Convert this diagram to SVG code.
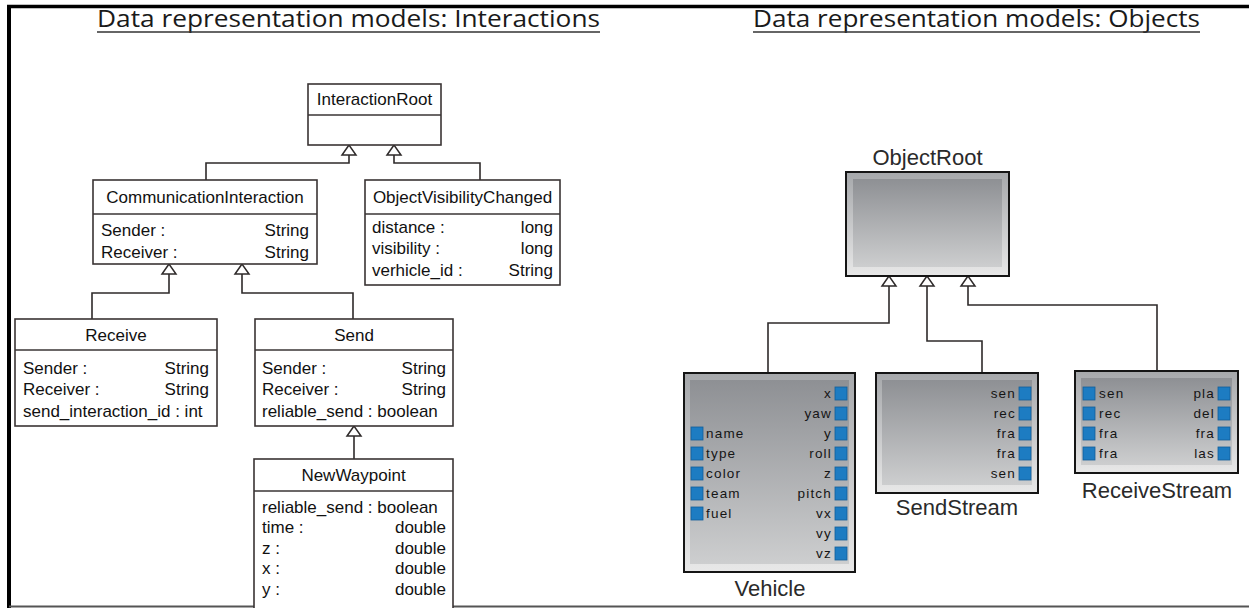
<svg xmlns="http://www.w3.org/2000/svg" width="1249" height="608" viewBox="0 0 1249 608">
<style>
.title{font-family:"Open Sans","Liberation Sans",sans-serif;font-size:23px;fill:#1a1a1a}
.uline{stroke:#333;stroke-width:1.5}
.box{fill:#fff;stroke:#3a3434;stroke-width:1.6}
.div{stroke:#3a3434;stroke-width:1.6}
.t{font-family:"Liberation Sans",Arial,sans-serif;font-size:17px;fill:#111}
.c{text-anchor:middle}
.r{text-anchor:end}
.conn{fill:none;stroke:#2e2a2a;stroke-width:1.6}
.tri{fill:#fff;stroke:#2e2a2a;stroke-width:1.5}
.obo{fill:url(#outerG);stroke:#151515;stroke-width:2}
.obi{fill:url(#innerG)}
.lbl{font-family:"Liberation Sans",Arial,sans-serif;font-size:22px;fill:#2a2a2a;text-anchor:middle}
.pl{font-family:"Liberation Sans",Arial,sans-serif;font-size:13.5px;fill:#151515;letter-spacing:1.2px}
.port{fill:#1d7cc2;stroke:#125e99;stroke-width:0.8}
</style>
<defs>
<linearGradient id="outerG" x1="0" y1="0" x2="0" y2="1"><stop offset="0" stop-color="#a6a8ab"/><stop offset="1" stop-color="#e8e8e8"/></linearGradient>
<linearGradient id="innerG" x1="0" y1="0" x2="0" y2="1"><stop offset="0" stop-color="#8e9094"/><stop offset="1" stop-color="#cdcecf"/></linearGradient>
</defs>
<rect x="0" y="0" width="1249" height="608" fill="#fff"/>
<g id="frame">
<line x1="7" y1="6.5" x2="1249" y2="6.5" stroke="#000" stroke-width="3.5"/>
<line x1="9" y1="5" x2="9" y2="608" stroke="#000" stroke-width="4"/>
<line x1="9" y1="606.5" x2="1249" y2="606.5" stroke="#555" stroke-width="2"/>
</g>
<g id="titles">
<text class="title" x="97" y="27" textLength="503" lengthAdjust="spacingAndGlyphs">Data representation models: Interactions</text>
<line class="uline" x1="97" y1="32" x2="600" y2="32"/>
<text class="title" x="753" y="27" textLength="447" lengthAdjust="spacingAndGlyphs">Data representation models: Objects</text>
<line class="uline" x1="753" y1="32" x2="1200" y2="32"/>
</g>
<g id="connectors">
<path class="conn" d="M349,155 V163 H206 V180"/>
<path class="conn" d="M394,155 V163 H480 V180"/>
<path class="conn" d="M169,274 V293 H92 V319"/>
<path class="conn" d="M242,274 V293 H353 V319"/>
<path class="conn" d="M354,436 V459"/>
<polygon class="tri" points="349,145 342,155 356,155"/>
<polygon class="tri" points="394,145 387,155 401,155"/>
<polygon class="tri" points="169,264 162,274 176,274"/>
<polygon class="tri" points="242,264 235,274 249,274"/>
<polygon class="tri" points="354,426 347,436 361,436"/>
<path class="conn" d="M889,286 V323 H768 V373"/>
<path class="conn" d="M927,286 V341 H982 V373"/>
<path class="conn" d="M968,286 V305 H1157 V371"/>
<polygon class="tri" points="889,276 882,286 896,286"/>
<polygon class="tri" points="927,276 920,286 934,286"/>
<polygon class="tri" points="968,276 961,286 975,286"/>
</g>
<g id="InteractionRoot">
<rect class="box" x="308" y="84" width="133" height="61"/>
<line class="div" x1="308" y1="115" x2="441" y2="115"/>
<text class="t c" x="374.5" y="105">InteractionRoot</text>
</g>
<g id="CommunicationInteraction">
<rect class="box" x="93" y="180" width="224" height="84"/>
<line class="div" x1="93" y1="214" x2="317" y2="214"/>
<text class="t c" x="205" y="203">CommunicationInteraction</text>
<text class="t" x="101" y="236">Sender :</text><text class="t r" x="309" y="236">String</text>
<text class="t" x="101" y="258">Receiver :</text><text class="t r" x="309" y="258">String</text>
</g>
<g id="ObjectVisibilityChanged">
<rect class="box" x="365" y="180" width="195" height="105"/>
<line class="div" x1="365" y1="214" x2="560" y2="214"/>
<text class="t c" x="462.5" y="203">ObjectVisibilityChanged</text>
<text class="t" x="372" y="233">distance :</text><text class="t r" x="553" y="233">long</text>
<text class="t" x="372" y="254">visibility :</text><text class="t r" x="553" y="254">long</text>
<text class="t" x="372" y="276">verhicle_id :</text><text class="t r" x="553" y="276">String</text>
</g>
<g id="Receive">
<rect class="box" x="15" y="319" width="202" height="107"/>
<line class="div" x1="15" y1="350" x2="217" y2="350"/>
<text class="t c" x="116" y="341">Receive</text>
<text class="t" x="23" y="374">Sender :</text><text class="t r" x="209" y="374">String</text>
<text class="t" x="23" y="395">Receiver :</text><text class="t r" x="209" y="395">String</text>
<text class="t" x="23" y="417">send_interaction_id : int</text>
</g>
<g id="Send">
<rect class="box" x="255" y="319" width="198" height="107"/>
<line class="div" x1="255" y1="350" x2="453" y2="350"/>
<text class="t c" x="354" y="341">Send</text>
<text class="t" x="262" y="374">Sender :</text><text class="t r" x="446" y="374">String</text>
<text class="t" x="262" y="395">Receiver :</text><text class="t r" x="446" y="395">String</text>
<text class="t" x="262" y="417">reliable_send : boolean</text>
</g>
<g id="NewWaypoint">
<rect class="box" x="254" y="459" width="199" height="152"/>
<line class="div" x1="254" y1="491" x2="453" y2="491"/>
<text class="t c" x="353.5" y="481">NewWaypoint</text>
<text class="t" x="262" y="513">reliable_send : boolean</text>
<text class="t" x="262" y="533">time :</text><text class="t r" x="446" y="533">double</text>
<text class="t" x="262" y="554">z :</text><text class="t r" x="446" y="554">double</text>
<text class="t" x="262" y="574">x :</text><text class="t r" x="446" y="574">double</text>
<text class="t" x="262" y="595">y :</text><text class="t r" x="446" y="595">double</text>
</g>
<g id="ObjectRoot">
<text class="lbl" x="927.5" y="165">ObjectRoot</text>
<rect class="obo" x="846" y="172" width="163" height="104"/>
<rect class="obi" x="853" y="179" width="149" height="88"/>
</g>
<g id="Vehicle">
<rect class="obo" x="684" y="373" width="171" height="199"/>
<rect class="obi" x="690" y="380" width="159" height="184"/>
<text class="lbl" x="770" y="596">Vehicle</text>
<g class="pl" text-anchor="end">
<text x="832" y="397.5">x</text><text x="832" y="417.5">yaw</text><text x="832" y="437.5">y</text><text x="832" y="457.5">roll</text><text x="832" y="477.5">z</text><text x="832" y="497.5">pitch</text><text x="832" y="517.5">vx</text><text x="832" y="537.5">vy</text><text x="832" y="557.5">vz</text>
</g>
<rect class="port" x="835" y="387" width="12" height="13"/><rect class="port" x="835" y="407" width="12" height="13"/><rect class="port" x="835" y="427" width="12" height="13"/><rect class="port" x="835" y="447" width="12" height="13"/><rect class="port" x="835" y="467" width="12" height="13"/><rect class="port" x="835" y="487" width="12" height="13"/><rect class="port" x="835" y="507" width="12" height="13"/><rect class="port" x="835" y="527" width="12" height="13"/><rect class="port" x="835" y="547" width="12" height="13"/>
<g class="pl">
<text x="706" y="437.5">name</text><text x="706" y="457.5">type</text><text x="706" y="477.5">color</text><text x="706" y="497.5">team</text><text x="706" y="517.5">fuel</text>
</g>
<rect class="port" x="691" y="427" width="12" height="13"/><rect class="port" x="691" y="447" width="12" height="13"/><rect class="port" x="691" y="467" width="12" height="13"/><rect class="port" x="691" y="487" width="12" height="13"/><rect class="port" x="691" y="507" width="12" height="13"/>
</g>
<g id="SendStream">
<rect class="obo" x="876" y="373" width="162" height="120"/>
<rect class="obi" x="882" y="380" width="150" height="105"/>
<text class="lbl" x="957" y="515">SendStream</text>
<g class="pl" text-anchor="end">
<text x="1016" y="397.5">sen</text><text x="1016" y="417.5">rec</text><text x="1016" y="437.5">fra</text><text x="1016" y="457.5">fra</text><text x="1016" y="477.5">sen</text>
</g>
<rect class="port" x="1019" y="387" width="12" height="13"/><rect class="port" x="1019" y="407" width="12" height="13"/><rect class="port" x="1019" y="427" width="12" height="13"/><rect class="port" x="1019" y="447" width="12" height="13"/><rect class="port" x="1019" y="467" width="12" height="13"/>
</g>
<g id="ReceiveStream">
<rect class="obo" x="1075" y="371" width="163" height="102"/>
<rect class="obi" x="1081" y="378" width="151" height="87"/>
<text class="lbl" x="1157" y="498">ReceiveStream</text>
<g class="pl">
<text x="1099" y="397.5">sen</text><text x="1099" y="417.5">rec</text><text x="1099" y="437.5">fra</text><text x="1099" y="457.5">fra</text>
</g>
<rect class="port" x="1083" y="387" width="12" height="13"/><rect class="port" x="1083" y="407" width="12" height="13"/><rect class="port" x="1083" y="427" width="12" height="13"/><rect class="port" x="1083" y="447" width="12" height="13"/>
<g class="pl" text-anchor="end">
<text x="1215" y="397.5">pla</text><text x="1215" y="417.5">del</text><text x="1215" y="437.5">fra</text><text x="1215" y="457.5">las</text>
</g>
<rect class="port" x="1218" y="387" width="12" height="13"/><rect class="port" x="1218" y="407" width="12" height="13"/><rect class="port" x="1218" y="427" width="12" height="13"/><rect class="port" x="1218" y="447" width="12" height="13"/>
</g>
</svg>
